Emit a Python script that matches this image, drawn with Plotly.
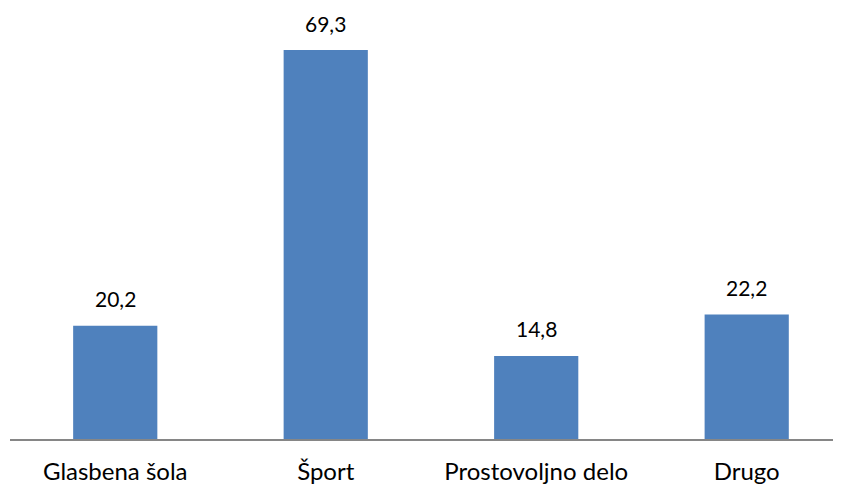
import plotly.graph_objects as go

categories = ["Glasbena šola", "Šport", "Prostovoljno delo", "Drugo"]
values = [20.2, 69.3, 14.8, 22.2]
labels = ["20,2", "69,3", "14,8", "22,2"]

FONT = "Lato, 'Open Sans', sans-serif"

fig = go.Figure()
fig.add_trace(go.Bar(
    x=categories, y=values, width=0.4,
    marker=dict(color="#4F81BD", line=dict(width=0)),
    hoverinfo="skip",
))
for c, v, t in zip(categories, values, labels):
    fig.add_annotation(x=c, y=v, text=t, showarrow=False, yanchor="middle",
                       yshift=27, borderpad=0,
                       font=dict(family=FONT, size=21, color="#000000"))

fig.update_layout(
    width=841, height=488,
    margin=dict(l=2, r=0, t=0, b=57, autoexpand=False),
    plot_bgcolor="white", paper_bgcolor="white",
    showlegend=False,
    xaxis=dict(range=[-0.5, 3.486], showline=True, linecolor="#868686", linewidth=2,
               ticks="outside", ticklen=10, tickcolor="rgba(0,0,0,0)", automargin=False,
               tickfont=dict(family=FONT, size=24, color="#000000"), showgrid=False),
    yaxis=dict(range=[0, 76.8], visible=False, showgrid=False),
)
fig.write_html("out.html")
